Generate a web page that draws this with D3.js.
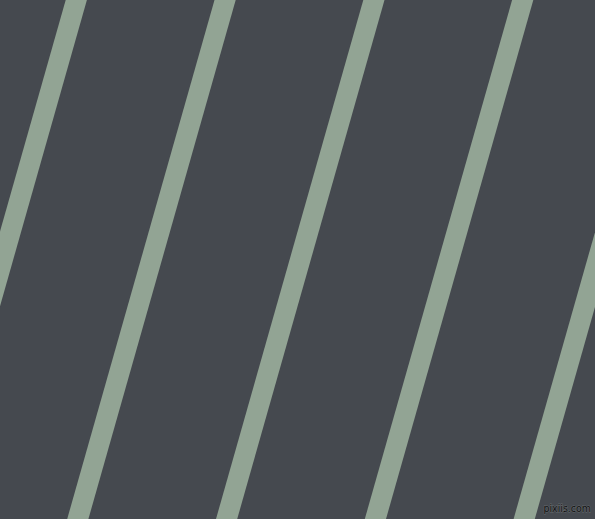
<!DOCTYPE html>
<html>
<head>
<meta charset="utf-8">
<script src="https://cdn.jsdelivr.net/npm/d3@7"></script>
<style>
  html, body { margin: 0; padding: 0; background: #45494f; }
  svg { display: block; }
</style>
</head>
<body>
<div id="chart"></div>
<script>
// Chart Params
var svgWidth = 595;
var svgHeight = 519;

// stripe indexes (one per diagonal band) and the horizontal drift over the full height
var stripes = [-1, 0, 1, 2, 3, 4, 5];
var drift = [0, 147.3];
var watermark = ["pixiis.com"];

var bgColor = "#45494f";
var stripeColor = "#92a494";

var svg = d3.select("#chart")
  .append("svg")
  .attr("width", svgWidth)
  .attr("height", svgHeight);

svg.append("rect")
  .attr("width", svgWidth)
  .attr("height", svgHeight)
  .attr("fill", bgColor);

// stripe index -> x of the band centre on the top edge
var xScale = d3.scaleLinear()
  .domain([0, 1])
  .range([76.3, 225.1]);

// y -> leftward shift of a band
var yShift = d3.scaleLinear()
  .domain([0, svgHeight])
  .range(drift);

var pad = 40;

svg.selectAll("line.stripe")
  .data(stripes)
  .enter()
  .append("line")
  .attr("class", "stripe")
  .attr("x1", d => xScale(d) - yShift(-pad))
  .attr("y1", -pad)
  .attr("x2", d => xScale(d) - yShift(svgHeight + pad))
  .attr("y2", svgHeight + pad)
  .attr("stroke", stripeColor)
  .attr("stroke-width", 20.4);

// watermark
svg.selectAll("text.mark")
  .data(watermark)
  .enter()
  .append("text")
  .attr("class", "mark")
  .attr("x", 591)
  .attr("y", 512)
  .attr("text-anchor", "end")
  .style("font-family", "Liberation Sans Narrow, DejaVu Sans Condensed, sans-serif")
  .style("font-size", "10.5px")
  .style("fill", "#111")
  .style("stroke", "#6a6e72")
  .style("stroke-width", "0.8px")
  .style("paint-order", "stroke")
  .text(d => d);
</script>
</body>
</html>
